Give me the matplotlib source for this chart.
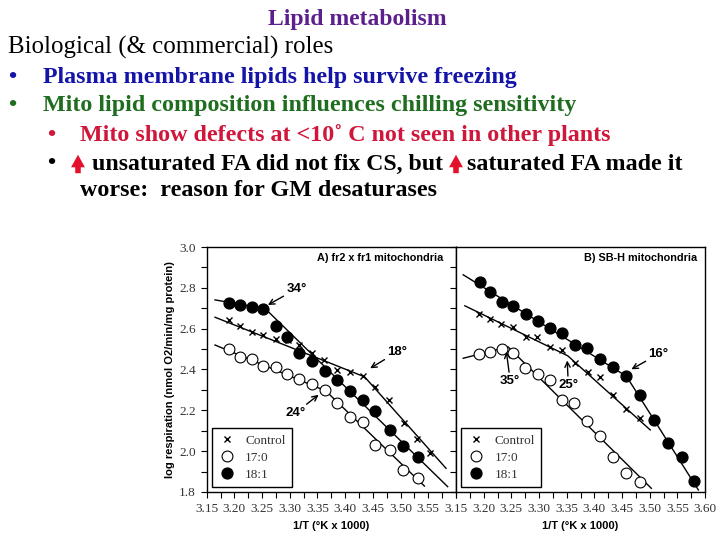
import numpy as np
import matplotlib
matplotlib.use('Agg')
import matplotlib.pyplot as plt
from matplotlib.patches import FancyArrowPatch
from matplotlib.ticker import MultipleLocator, FormatStrFormatter

# ---- data ----
# panel A: fr2 x fr1 mitochondria
a_ctrl_x = [3.191, 3.210, 3.231, 3.252, 3.275, 3.296, 3.3165, 3.340, 3.362, 3.385, 3.409, 3.432, 3.4545, 3.479, 3.506, 3.530, 3.5525]
a_ctrl_y = [2.642, 2.615, 2.586, 2.571, 2.547, 2.545, 2.519, 2.480, 2.447, 2.400, 2.387, 2.366, 2.315, 2.249, 2.139, 2.058, 1.993]
a_170_x = [3.191, 3.210, 3.231, 3.252, 3.275, 3.295, 3.3165, 3.340, 3.363, 3.385, 3.409, 3.432, 3.4545, 3.480, 3.505, 3.531]
a_170_y = [2.498, 2.462, 2.449, 2.415, 2.414, 2.376, 2.353, 2.331, 2.299, 2.238, 2.169, 2.145, 2.030, 2.006, 1.908, 1.867]
a_181_x = [3.191, 3.210, 3.231, 3.2525, 3.2755, 3.295, 3.3165, 3.340, 3.363, 3.386, 3.409, 3.432, 3.4545, 3.480, 3.505, 3.531]
a_181_y = [2.725, 2.714, 2.708, 2.694, 2.615, 2.558, 2.480, 2.440, 2.392, 2.348, 2.296, 2.250, 2.199, 2.104, 2.026, 1.973]

# fitted broken lines, panel A
a_ctrl_fit_x = [3.165, 3.435, 3.582]
a_ctrl_fit_y = [2.656, 2.364, 1.916]
a_170_fit_x = [3.165, 3.365, 3.543]
a_170_fit_y = [2.520, 2.295, 1.829]
a_181_fit_x = [3.165, 3.256, 3.585]
a_181_fit_y = [2.741, 2.697, 1.826]

# panel B: SB-H mitochondria
b_ctrl_x = [3.192, 3.211, 3.232, 3.253, 3.276, 3.297, 3.319, 3.341, 3.365, 3.388, 3.410, 3.434, 3.457, 3.482]
b_ctrl_y = [2.673, 2.648, 2.623, 2.609, 2.561, 2.560, 2.511, 2.495, 2.434, 2.387, 2.363, 2.277, 2.206, 2.163]
b_170_x = [3.192, 3.212, 3.233, 3.253, 3.275, 3.298, 3.319, 3.341, 3.364, 3.387, 3.410, 3.434, 3.457, 3.482]
b_170_y = [2.478, 2.488, 2.500, 2.480, 2.405, 2.376, 2.347, 2.249, 2.238, 2.148, 2.072, 1.969, 1.895, 1.851]
b_181_x = [3.193, 3.212, 3.233, 3.253, 3.276, 3.298, 3.319, 3.341, 3.365, 3.387, 3.410, 3.434, 3.457, 3.482, 3.508, 3.534, 3.559, 3.581]
b_181_y = [2.831, 2.780, 2.730, 2.713, 2.674, 2.639, 2.605, 2.578, 2.518, 2.504, 2.451, 2.414, 2.367, 2.276, 2.153, 2.039, 1.973, 1.853]

b_ctrl_fit_x = [3.166, 3.352, 3.501]
b_ctrl_fit_y = [2.712, 2.467, 2.104]
b_170_fit_x = [3.163, 3.244, 3.503]
b_170_fit_y = [2.455, 2.511, 1.818]
b_181_fit_x = [3.163, 3.458, 3.588]
b_181_fit_y = [2.864, 2.367, 1.810]

# break-point labels: (text, arrow tip x, y, text x, y)
a_notes = [('34°', 3.2605, 2.716, 3.312, 2.795),
           ('18°', 3.445, 2.406, 3.494, 2.486),
           ('24°', 3.352, 2.276, 3.310, 2.187)]
b_notes = [('16°', 3.467, 2.401, 3.516, 2.476),
           ('35°', 3.241, 2.488, 3.248, 2.344),
           ('25°', 3.351, 2.444, 3.353, 2.325)]

W, H = 720.0, 540.0


def fx(px):
    return px / W


def fy(py):
    return 1 - py / H


fig = plt.figure(figsize=(7.2, 5.4), dpi=100)
serif = 'Liberation Serif'
sans = 'Liberation Sans'

# ---- slide text ----
fig.text(fx(357), fy(19), 'Lipid metabolism', color='#5b1f8e', fontsize=17,
         fontweight='bold', family=serif, ha='center', va='center')
fig.text(fx(8), fy(47), 'Biological (& commercial) roles', color='black', fontsize=17.9,
         family=serif, ha='left', va='center')
lines = [(8, 43, 77, 'Plasma membrane lipids help survive freezing', '#1414a8'),
         (8, 43, 106, 'Mito lipid composition influences chilling sensitivity', '#1f6e1f'),
         (47, 80, 135, 'Mito show defects at <10˚ C not seen in other plants', '#d0163a')]
for bx, tx, ty, s, c in lines:
    fig.text(fx(bx), fy(ty), '•', color=c, fontsize=17, fontweight='bold', family=serif, va='center')
    fig.text(fx(tx), fy(ty), s, color=c, fontsize=17.25, fontweight='bold', family=serif, va='center')
fig.text(fx(47), fy(164), '•', color='black', fontsize=17, fontweight='bold', family=serif, va='center')
fig.text(fx(92), fy(164), 'unsaturated FA did not fix CS, but', color='black', fontsize=17.1,
         fontweight='bold', family=serif, va='center')
fig.text(fx(467), fy(164), 'saturated FA made it', color='black', fontsize=17.25,
         fontweight='bold', family=serif, va='center')
fig.text(fx(80), fy(191), 'worse:  reason for GM desaturases', color='black', fontsize=17.25,
         fontweight='bold', family=serif, va='center')
for ax_ in (78, 456):
    arr = FancyArrowPatch((fx(ax_), fy(176)), (fx(ax_), fy(152)), transform=fig.transFigure,
                          arrowstyle='simple,head_length=0.9,head_width=1.0,tail_width=0.4',
                          mutation_scale=10, color='#e3112b', lw=0)
    fig.add_artist(arr)

# ---- the two panels ----
axA = fig.add_axes([fx(206.7), fy(492), (456 - 206.7) / W, (492 - 247) / H])
axB = fig.add_axes([fx(456), fy(492), (705 - 456) / W, (492 - 247) / H])


def panel(ax, ctrl, c17, c18, fits, notes, title, tx):
    for fxs, fys in fits:
        ax.plot(fxs, fys, color='black', lw=1, zorder=2)
    ax.plot(ctrl[0], ctrl[1], 'x', color='black', ms=5, mew=1, zorder=3, label='Control')
    ax.plot(c17[0], c17[1], 'o', mfc='white', mec='black', ms=7.8, mew=0.8, zorder=3, label='17:0')
    ax.plot(c18[0], c18[1], 'o', color='black', ms=7.8, zorder=3, label='18:1')
    for s, x0, y0, x1, y1 in notes:
        ax.annotate(s, xy=(x0, y0), xytext=(x1, y1), fontsize=9.5, fontweight='bold',
                    family=sans, ha='center', va='center',
                    arrowprops=dict(arrowstyle='->', lw=1, color='black', shrinkA=0, shrinkB=0))
    ax.text(tx, 0.975, title, transform=ax.transAxes, fontsize=7.8, fontweight='bold',
            family=sans, ha='right', va='top')
    ax.set_xlim(3.15, 3.60)
    ax.set_ylim(1.8, 3.0)
    ax.xaxis.set_major_locator(MultipleLocator(0.05))
    ax.xaxis.set_minor_locator(MultipleLocator(0.025))
    ax.yaxis.set_major_locator(MultipleLocator(0.2))
    ax.yaxis.set_minor_locator(MultipleLocator(0.1))
    ax.xaxis.set_major_formatter(FormatStrFormatter('%.2f'))
    ax.yaxis.set_major_formatter(FormatStrFormatter('%.1f'))
    ax.tick_params(which='both', direction='out', width=0.8, colors='black', labelcolor='#333333',
                   labelsize=9.5)
    ax.tick_params(which='major', length=4, pad=4)
    ax.tick_params(which='minor', length=4)
    for lab in ax.get_xticklabels() + ax.get_yticklabels():
        lab.set_family(serif)
    for sp in ax.spines.values():
        sp.set_linewidth(1)
    ax.set_xlabel('1/T (°K x 1000)', fontsize=8, fontweight='bold', family=sans, labelpad=4)
    leg = ax.legend(loc='lower left', bbox_to_anchor=(0.022, 0.02), borderaxespad=0,
                    fancybox=False, framealpha=1, edgecolor='black', handlelength=1.2,
                    handletextpad=0.8, labelspacing=0.35, borderpad=0.5,
                    prop={'family': serif, 'size': 9.5})
    leg.get_frame().set_linewidth(1)
    for t in leg.get_texts():
        t.set_color('#333333')


panel(axA, (a_ctrl_x, a_ctrl_y), (a_170_x, a_170_y), (a_181_x, a_181_y),
      [(a_ctrl_fit_x, a_ctrl_fit_y), (a_170_fit_x, a_170_fit_y), (a_181_fit_x, a_181_fit_y)],
      a_notes, 'A) fr2 x fr1 mitochondria', 0.95)
panel(axB, (b_ctrl_x, b_ctrl_y), (b_170_x, b_170_y), (b_181_x, b_181_y),
      [(b_ctrl_fit_x, b_ctrl_fit_y), (b_170_fit_x, b_170_fit_y), (b_181_fit_x, b_181_fit_y)],
      b_notes, 'B) SB-H mitochondria', 0.97)

axA.set_xticks(np.arange(3.15, 3.56, 0.05))
axB.tick_params(axis='y', labelleft=False)
axA.set_ylabel('log respiration (nmol O2/min/mg protein)', fontsize=8, fontweight='bold',
               family=sans, labelpad=3)

fig.savefig('out.png', dpi=100)
